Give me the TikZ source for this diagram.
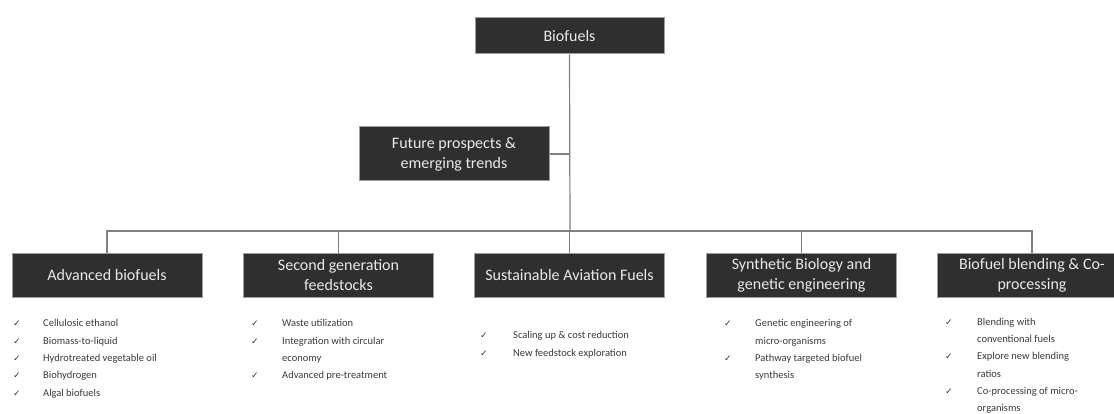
\documentclass[tikz,border=0pt]{standalone}
\usepackage{fontspec}
\setmainfont{Carlito}
\newfontfamily\symfont{DejaVu Sans}
\definecolor{boxfill}{HTML}{2F2F2F}
\definecolor{boxline}{HTML}{9C9C9C}
\definecolor{boxtext}{HTML}{EAEAEA}
\definecolor{lineclr}{HTML}{808080}
\definecolor{listclr}{HTML}{3A3A3A}
\newcommand\ck{{\symfont\fontsize{9}{9}\selectfont ✓}}
\begin{document}
\begin{tikzpicture}[x=1pt,y=-1pt,
  box/.style={draw=boxline, line width=1pt, fill=boxfill, text=boxtext, align=center,
    minimum width=190pt, minimum height=43pt, inner sep=0pt, font=\fontsize{16}{20}\selectfont},
  conn/.style={draw=lineclr, line width=1.2pt},
  itemlist/.style={anchor=north west, inner sep=0pt, text=listclr, align=left,
    font=\fontsize{10.5}{17.3}\selectfont}]
\useasboundingbox (0,0) rectangle (1114,414);
\clip (0,0) rectangle (1114,414);
\node[box, minimum height=36pt, minimum width=189pt] (bio) at (569.5,36) {Biofuels};
\node[box, minimum height=54pt] (fut) at (454,154) {Future prospects \&\\emerging trends};
\coordinate (bus) at (570,231);
\node[box] (c1) at (107,275.5) {Advanced biofuels};
\node[box] (c2) at (338.5,275.5) {Second generation\\feedstocks};
\node[box] (c3) at (569.5,275.5) {Sustainable Aviation Fuels};
\node[box] (c4) at (801.5,275.5) {Synthetic Biology and\\genetic engineering};
\node[box] (c5) at (1032,275.5) {Biofuel blending \& Co-\\processing};
\draw[conn] (bio.south) -- (bus);
\draw[conn] (fut.east) -- (fut.east -| bio.south);
\draw[conn] (c1.north) |- (bus) -| (c5.north);
\draw[conn] (c2.north) -- (c2.north |- bus);
\draw[conn] (c3.north) -- (c3.north |- bus);
\draw[conn] (c4.north) -- (c4.north |- bus);
\node[itemlist] (l1) at (13,314.5) {\begin{tabular}{@{}p{30pt}@{}l@{}}
\ck & Cellulosic ethanol\\
\ck & Biomass-to-liquid\\
\ck & Hydrotreated vegetable oil\\
\ck & Biohydrogen\\
\ck & Algal biofuels
\end{tabular}};
\node[itemlist] (l2) at (251,314.5) {\begin{tabular}{@{}p{31pt}@{}l@{}}
\ck & Waste utilization\\
\ck & Integration with circular\\
 & economy\\
\ck & Advanced pre-treatment
\end{tabular}};
\node[itemlist] (l3) at (480,326.5) {\begin{tabular}{@{}p{33pt}@{}l@{}}
\ck & Scaling up \& cost reduction\\
\ck & New feedstock exploration
\end{tabular}};
\node[itemlist] (l4) at (724,314.5) {\begin{tabular}{@{}p{31pt}@{}l@{}}
\ck & Genetic engineering of\\
 & micro-organisms\\
\ck & Pathway targeted biofuel\\
 & synthesis
\end{tabular}};
\node[itemlist] (l5) at (945,313) {\begin{tabular}{@{}p{32pt}@{}l@{}}
\ck & Blending with\\
 & conventional fuels\\
\ck & Explore new blending\\
 & ratios\\
\ck & Co-processing of micro-\\
 & organisms
\end{tabular}};
\end{tikzpicture}
\end{document}
